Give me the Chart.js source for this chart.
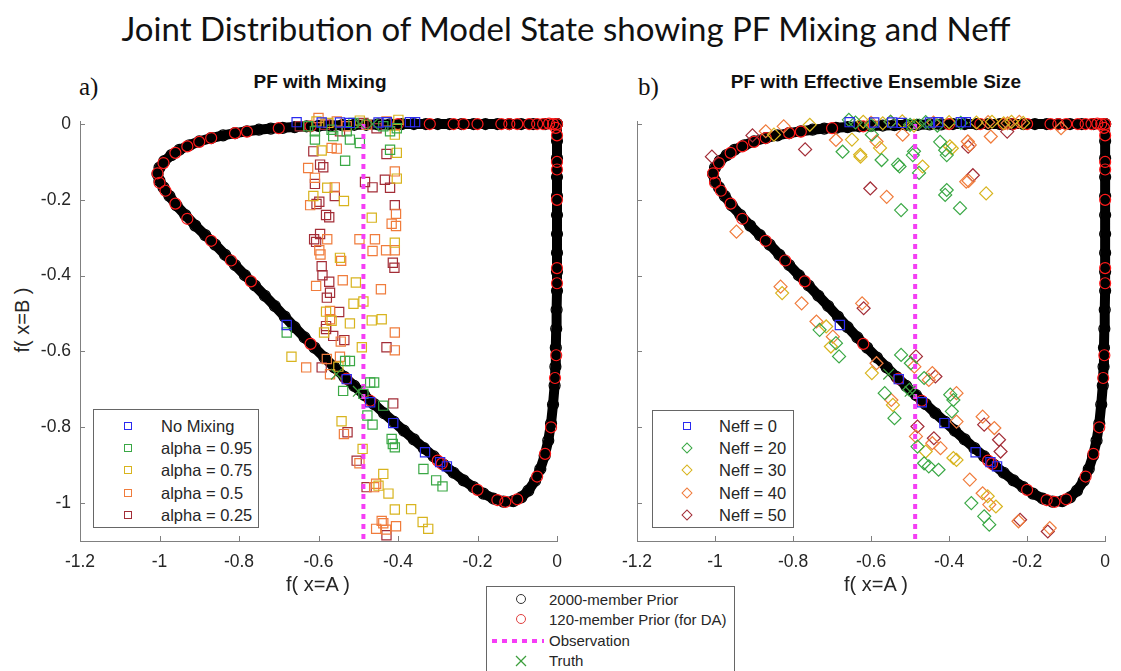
<!DOCTYPE html>
<html>
<head>
<meta charset="utf-8">
<script src="https://cdn.jsdelivr.net/npm/chart.js@4.4.0/dist/chart.umd.min.js"></script>
<style>
  body { margin: 0; width: 1121px; height: 671px; background: #fff; position: relative; overflow: hidden;
         font-family: "Liberation Sans", Arial, sans-serif; color: #262626; }
  .abs { position: absolute; white-space: nowrap; }
  #title { left: 0; width: 1132px; top: 8px; text-align: center; font-family: Lato, "Open Sans", sans-serif; font-size: 33px; color: #111; }
  .sub { top: 71px; font-weight: bold; font-size: 19px; color: #111; transform: translateX(-50%); }
  .tag { top: 73px; font-family: "Liberation Serif", "Times New Roman", serif; font-size: 25px; color: #111; }
  .xlab { top: 573px; font-size: 20px; transform: translateX(-50%); }
  #ylab { left: 22px; top: 320px; font-size: 20px; transform: translate(-50%, -50%) rotate(-90deg); }
  canvas { position: absolute; top: 60px; }
  .legend { position: absolute; border: 1px solid #666; background: #fff; }
  .row { position: absolute; left: 0; right: 0; height: 22px; font-size: 16.5px; line-height: 22px; }
  .row .mk { position: absolute; box-sizing: border-box; }
  .row .tx { position: absolute; }
  .sq { width: 8px; height: 8px; border: 1.3px solid; top: 7px; }
  .dm { width: 8px; height: 8px; border: 1.3px solid; top: 7px; transform: rotate(45deg); }
  .ci { width: 10px; height: 10px; border: 1.2px solid; border-radius: 50%; top: 5px; }
</style>
</head>
<body>
<div id="title" class="abs">Joint Distribution of Model State showing PF Mixing and Neff</div>
<div class="abs tag" style="left:79px;">a)</div>
<div class="abs tag" style="left:638px;">b)</div>
<div class="abs sub" style="left:320px;">PF with Mixing</div>
<div class="abs sub" style="left:876px;">PF with Effective Ensemble Size</div>
<div id="ylab" class="abs">f( x=B )</div>

<canvas id="left" width="580" height="540" style="left:0px;"></canvas>
<canvas id="right" width="561" height="540" style="left:560px;"></canvas>

<div class="abs xlab" style="left:318px;">f( x=A )</div>
<div class="abs xlab" style="left:876px;">f( x=A )</div>

<div id="legA" class="legend" style="left:93px; top:409px; width:164px; height:117px;"></div>
<div id="legB" class="legend" style="left:652px; top:410px; width:140px; height:116px;"></div>
<div id="legC" class="legend" style="left:486px; top:586px; width:247px; height:100px;"></div>

<script>
// axis ticks
const xTicks = [-1.2, -1, -0.8, -0.6, -0.4, -0.2, 0];
const xTickLabels = ['-1.2', '-1', '-0.8', '-0.6', '-0.4', '-0.2', '0'];
const yTicks = [-1, -0.8, -0.6, -0.4, -0.2, 0];
const yTickLabels = ['-1', '-0.8', '-0.6', '-0.4', '-0.2', '0'];

// 2000-member prior, read along the loop
const priorX = [0, -0.03, -0.06, -0.09, -0.12, -0.15, -0.18, -0.21, -0.24, -0.27, -0.30, -0.33, -0.36, -0.39, -0.42,
  -0.45, -0.48, -0.51, -0.54, -0.57, -0.60, -0.63, -0.66, -0.69, -0.72, -0.75, -0.78, -0.81, -0.84, -0.87, -0.90,
  -0.925, -0.95, -0.97, -0.988, -1.0, -1.005, -1.0, -0.99, -0.975, -0.957, -0.935,
  -0.91, -0.885, -0.86, -0.835, -0.81, -0.785, -0.76, -0.735, -0.71, -0.685, -0.66, -0.635, -0.61, -0.585, -0.56,
  -0.535, -0.51, -0.485, -0.46, -0.435, -0.41, -0.385, -0.36, -0.335, -0.31, -0.285, -0.26, -0.235, -0.21, -0.185, -0.16,
  -0.135, -0.11, -0.09, -0.072, -0.055, -0.042, -0.031, -0.022, -0.015, -0.01, -0.006, -0.004, -0.003, -0.002, -0.001,
  0, 0, 0, 0, 0, 0, 0, 0, 0, 0];
const priorY = [0, 0, 0, 0, 0, 0, 0, 0, 0, 0, 0, 0, 0, 0, -0.001,
  -0.001, -0.002, -0.002, -0.003, -0.004, -0.005, -0.006, -0.008, -0.010, -0.012, -0.015, -0.019, -0.024, -0.030, -0.037, -0.046,
  -0.056, -0.068, -0.082, -0.098, -0.115, -0.132, -0.15, -0.167, -0.19, -0.215, -0.24,
  -0.268, -0.293, -0.318, -0.345, -0.372, -0.399, -0.426, -0.453, -0.48, -0.508, -0.536, -0.563, -0.59, -0.616, -0.642,
  -0.667, -0.691, -0.715, -0.739, -0.763, -0.786, -0.809, -0.832, -0.855, -0.877, -0.899, -0.92, -0.94, -0.958, -0.975, -0.988,
  -0.996, -0.995, -0.985, -0.967, -0.941, -0.91, -0.875, -0.835, -0.79, -0.74, -0.69, -0.64, -0.59, -0.54, -0.49,
  -0.44, -0.39, -0.34, -0.29, -0.24, -0.19, -0.14, -0.09, -0.045, 0];

// 120-member prior (for DA)
const prior120X = [0, -0.01, -0.02, -0.035, -0.05, -0.07, -0.1, -0.12, -0.14, -0.2, -0.235, -0.26, -0.32, -0.4,
  -0.62, -0.7, -0.78, -0.81, -0.87, -0.9, -0.93, -0.96, -0.99, -1.005, -1.0, -0.985, -0.96, -0.93, -0.87, -0.82, -0.77,
  -0.62, -0.53, -0.47, -0.3, -0.29, -0.2, -0.15, -0.13, -0.1, -0.05, -0.03, -0.015, -0.005, -0.002,
  0, 0, 0, 0, 0, 0, -0.003];
const prior120Y = [0, 0, 0.001, 0, 0, 0, 0, 0, 0, 0, 0, 0, 0, 0,
  -0.006, -0.011, -0.02, -0.024, -0.037, -0.047, -0.059, -0.076, -0.103, -0.13, -0.155, -0.176, -0.21, -0.25, -0.308, -0.36, -0.415,
  -0.58, -0.672, -0.73, -0.888, -0.896, -0.965, -0.992, -0.997, -0.99, -0.93, -0.87, -0.8, -0.67, -0.61,
  -0.42, -0.38, -0.2, -0.12, -0.1, -0.03, -0.01];

// observation and truth
const obsX = [-0.487, -0.487];
const obsY = [0, -1.1];
const truthX = [-0.496, -0.464, -0.555, -0.5];
const truthY = [0.0, 0.0, -0.66, -0.705];

// No Mixing / Neff = 0
const noMixX = [-0.655, -0.592, -0.546, -0.521, -0.449, -0.428, -0.37, -0.357, -0.68, -0.529, -0.47, -0.412, -0.332, -0.294, -0.277];
const noMixY = [0.005, 0.004, 0.004, 0.003, 0.004, 0.005, 0.005, 0.005, -0.53, -0.673, -0.734, -0.789, -0.866, -0.892, -0.903];

// panel a: mixing
const alpha95X = [-0.626, -0.609, -0.567, -0.529, -0.512, -0.437, -0.42, -0.403, -0.609, -0.563, -0.521, -0.496, -0.533, -0.42,
  -0.68, -0.533, -0.521, -0.538, -0.47, -0.46, -0.487, -0.437, -0.477, -0.464, -0.416, -0.413, -0.408, -0.336, -0.304, -0.288];
const alpha95Y = [-0.006, -0.019, -0.015, -0.019, 0.003, -0.006, -0.019, -0.011, -0.041, -0.032, -0.041, -0.05, -0.097, -0.068,
  -0.55, -0.625, -0.625, -0.704, -0.682, -0.682, -0.712, -0.743, -0.769, -0.793, -0.831, -0.844, -0.853, -0.91, -0.94, -0.956];
const alpha75X = [-0.605, -0.575, -0.496, -0.399, -0.408, -0.592, -0.403, -0.403, -0.578, -0.536, -0.613, -0.466, -0.408,
  -0.546, -0.506, -0.512, -0.487, -0.581, -0.521, -0.466, -0.441, -0.567,
  -0.586, -0.491, -0.668, -0.55, -0.542, -0.489, -0.437, -0.449, -0.424, -0.408, -0.367, -0.338, -0.324];
const alpha75Y = [0.007, 0.003, 0.009, 0.011, -0.028, -0.07, -0.076, -0.144, -0.168, -0.203, -0.19, -0.247, -0.313,
  -0.353, -0.418, -0.474, -0.468, -0.495, -0.526, -0.518, -0.515, -0.519,
  -0.55, -0.589, -0.614, -0.64, -0.784, -0.857, -0.923, -0.954, -0.975, -1.017, -1.016, -1.05, -1.068];
const alpha50X = [-0.6, -0.554, -0.479, -0.429, -0.529, -0.567, -0.554, -0.626, -0.609, -0.408, -0.559, -0.621, -0.405, -0.416,
  -0.405, -0.578, -0.497, -0.458, -0.598, -0.595, -0.543, -0.464, -0.43, -0.408, -0.606, -0.539, -0.443, -0.571,
  -0.571, -0.408, -0.544, -0.408, -0.631, -0.579, -0.546, -0.571, -0.536, -0.497, -0.455, -0.46, -0.441, -0.437, -0.455, -0.43, -0.405];
const alpha50Y = [0.016, 0.007, -0.002, 0.007, -0.006, -0.063, -0.065, -0.116, -0.142, -0.125, -0.167, -0.214, -0.237, -0.263,
  -0.269, -0.304, -0.304, -0.304, -0.333, -0.344, -0.361, -0.335, -0.333, -0.333, -0.427, -0.412, -0.436, -0.493,
  -0.515, -0.55, -0.574, -0.597, -0.642, -0.62, -0.614, -0.66, -0.818, -0.895, -0.949, -0.958, -1.047, -1.053, -1.068, -1.07, -1.061];
const alpha25X = [-0.647, -0.584, -0.487, -0.454, -0.546, -0.613, -0.429, -0.596, -0.588, -0.609, -0.483, -0.464, -0.433, -0.42,
  -0.559, -0.605, -0.598, -0.408, -0.581, -0.573, -0.596, -0.611, -0.606, -0.413, -0.409, -0.592, -0.59, -0.573, -0.571,
  -0.579, -0.548, -0.581, -0.581, -0.563, -0.535, -0.429, -0.592, -0.412, -0.527, -0.504, -0.479, -0.429];
const alpha25Y = [-0.006, -0.002, 0.003, -0.011, -0.019, -0.072, -0.079, -0.107, -0.114, -0.158, -0.153, -0.167, -0.147, -0.168,
  -0.19, -0.211, -0.205, -0.214, -0.24, -0.246, -0.29, -0.304, -0.311, -0.366, -0.379, -0.375, -0.399, -0.416, -0.445,
  -0.458, -0.496, -0.533, -0.541, -0.559, -0.57, -0.589, -0.642, -0.737, -0.813, -0.888, -0.958, -1.085];

// panel b: effective ensemble size
const neff20X = [-0.64, -0.6, -0.55, -0.5, -0.46, -0.43, -0.37, -0.657, -0.598, -0.673, -0.573, -0.531, -0.527, -0.523, -0.493,
  -0.49, -0.477, -0.423, -0.41, -0.406, -0.406, -0.41, -0.372,
  -0.732, -0.69, -0.682, -0.565, -0.54, -0.523, -0.498, -0.502, -0.464, -0.481, -0.464, -0.452, -0.427, -0.397, -0.389,
  -0.393, -0.343, -0.31, -0.297];
const neff20Y = [0.004, -0.003, 0.006, -0.002, 0.005, -0.004, 0.003, 0.011, -0.028, -0.073, -0.095, -0.107, -0.112, -0.227, -0.082,
  -0.072, -0.129, -0.047, -0.069, -0.082, -0.174, -0.187, -0.222,
  -0.543, -0.578, -0.613, -0.71, -0.776, -0.609, -0.631, -0.701, -0.67, -0.851, -0.895, -0.903, -0.912, -0.714, -0.728,
  -0.758, -1.0, -1.035, -1.057];
const neff30X = [-0.62, -0.57, -0.52, -0.49, -0.4, -0.33, -0.29, -0.26, -0.24, -0.21, -0.849, -0.757, -0.649, -0.628, -0.577,
  -0.398, -0.627, -0.468, -0.393, -0.305,
  -0.828, -0.715, -0.703, -0.598, -0.544, -0.46, -0.389, -0.381, -0.301, -0.28];
const neff30Y = [0.006, 0.002, 0.007, -0.004, 0.005, 0.004, 0.006, 0.002, 0.006, 0.003, -0.028, -0.002, -0.041, -0.081, -0.063,
  -0.059, -0.086, -0.112, -0.064, -0.183,
  -0.446, -0.534, -0.587, -0.657, -0.741, -0.864, -0.881, -0.886, -0.982, -1.009];
const neff40X = [-0.6, -0.55, -0.44, -0.3, -0.25, -0.22, -0.87, -0.824, -0.69, -0.586, -0.519, -0.352,
  -0.945, -0.56, -0.347, -0.356, -0.35, -0.293, -0.113,
  -0.832, -0.778, -0.623, -0.74, -0.698, -0.586, -0.548, -0.489, -0.443, -0.452, -0.485, -0.443, -0.422,
  -0.381, -0.381, -0.314, -0.284, -0.347, -0.314, -0.297, -0.222, -0.142];
const neff40Y = [0.003, 0.006, 0.004, 0.005, 0.002, 0.006, -0.019, -0.006, -0.042, -0.046, -0.028, -0.046,
  -0.284, -0.192, -0.055, -0.152, -0.15, -0.033, -0.011,
  -0.429, -0.473, -0.473, -0.521, -0.561, -0.631, -0.728, -0.64, -0.657, -0.675, -0.824, -0.842, -0.855,
  -0.71, -0.785, -0.772, -0.802, -0.938, -0.974, -1.004, -1.048, -1.066];
const neff50X = [-1.008, -0.904, -0.769, -0.602, -0.351, -0.339, -0.251, -0.619, -0.485, -0.435, -0.481, -0.439,
  -0.31, -0.272, -0.268, -0.218, -0.147];
const neff50Y = [-0.086, -0.03, -0.067, -0.17, -0.06, -0.135, -0.02, -0.486, -0.613, -0.666, -0.798, -0.829,
  -0.793, -0.833, -0.864, -1.044, -1.075];

const blue = '#2a2af0', green = '#3aa845', yellow = '#d8b41e', orange = '#f07c3c', darkred = '#a32d37';
const black = '#000000', red = '#ff1a1a', magenta = '#f53ef5', truthGreen = '#3c9e3c';

const pts = (xs, ys) => xs.map((x, i) => ({ x: x, y: ys[i] }));

function markers(xs, ys, color, style, r, order) {
  return {
    data: pts(xs, ys), pointStyle: style, pointRadius: r, pointBorderColor: color,
    pointBackgroundColor: 'rgba(0,0,0,0)', pointBorderWidth: 1.2, showLine: false, clip: false, order: order
  };
}

function common() {
  return [
    markers(truthX, truthY, truthGreen, 'crossRot', 7.5, 1),
    {
      data: pts(obsX, obsY), showLine: true, borderColor: magenta, borderWidth: 4, borderDash: [5, 5],
      pointRadius: 0, clip: false, order: 2
    },
    markers(prior120X, prior120Y, red, 'circle', 5.5, 20),
    {
      data: pts(priorX, priorY), showLine: true, borderColor: black, borderWidth: 10, borderJoinStyle: 'round',
      borderCapStyle: 'round', pointRadius: 5.5, pointBorderColor: black, pointBackgroundColor: 'rgba(0,0,0,0)',
      pointBorderWidth: 1.2, clip: false, order: 30
    }
  ];
}

// inward MATLAB-like tick marks
const inwardTicks = {
  id: 'inwardTicks',
  afterDraw(chart) {
    const { ctx, chartArea: a, scales: { x, y } } = chart;
    ctx.save();
    ctx.strokeStyle = '#808080';
    ctx.lineWidth = 1;
    x.ticks.forEach(t => {
      const px = Math.round(x.getPixelForValue(t.value)) + 0.5;
      ctx.beginPath(); ctx.moveTo(px, a.bottom); ctx.lineTo(px, a.bottom - 5); ctx.stroke();
    });
    y.ticks.forEach(t => {
      const py = Math.round(y.getPixelForValue(t.value)) + 0.5;
      ctx.beginPath(); ctx.moveTo(a.left, py); ctx.lineTo(a.left + 5, py); ctx.stroke();
    });
    ctx.restore();
  }
};

function makeChart(id, datasets, yAxisWidth, padRight, showYLabels) {
  const font = { family: "'Liberation Sans', Arial, sans-serif", size: 17.5 };
  return new Chart(document.getElementById(id), {
    type: 'scatter',
    data: { datasets: datasets },
    options: {
      responsive: false, animation: false,
      layout: { padding: { left: 0, right: padRight, top: 61, bottom: 0 } },
      plugins: { legend: { display: false }, tooltip: { enabled: false } },
      scales: {
        x: {
          type: 'linear', min: -1.2, max: 0,
          afterBuildTicks: s => { s.ticks = xTicks.map(v => ({ value: v })); },
          afterFit: s => { s.height = 59; },
          ticks: { callback: (v, i) => xTickLabels[i], font: font, color: '#262626', padding: 11, maxRotation: 0, autoSkip: false },
          grid: { display: false, drawTicks: false },
          border: { display: true, color: '#808080', width: 1 }
        },
        y: {
          type: 'linear', min: -1.1, max: 0.008,
          afterBuildTicks: s => { s.ticks = yTicks.map(v => ({ value: v })); },
          afterFit: s => { s.width = yAxisWidth; },
          ticks: { callback: (v, i) => showYLabels ? yTickLabels[i] : '', font: font, color: '#262626', padding: 9, autoSkip: false },
          grid: { display: false, drawTicks: false },
          border: { display: true, color: '#808080', width: 1 }
        }
      }
    },
    plugins: [inwardTicks]
  });
}

makeChart('left', [
  markers(noMixX, noMixY, blue, 'rect', 6.5, 3),
  markers(alpha95X, alpha95Y, green, 'rect', 6.5, 4),
  markers(alpha75X, alpha75Y, yellow, 'rect', 6.5, 5),
  markers(alpha50X, alpha50Y, orange, 'rect', 6.5, 6),
  markers(alpha25X, alpha25Y, darkred, 'rect', 6.5, 7),
  ...common()
], 80, 23, true);

makeChart('right', [
  markers(noMixX, noMixY, blue, 'rect', 6.5, 3),
  markers(neff20X, neff20Y, green, 'rectRot', 6.5, 4),
  markers(neff30X, neff30Y, yellow, 'rectRot', 6.5, 5),
  markers(neff40X, neff40Y, orange, 'rectRot', 6.5, 6),
  markers(neff50X, neff50Y, darkred, 'rectRot', 6.5, 7),
  ...common()
], 77, 6, false);

// legends
function legend(id, rows, top0, step, mkLeft, txLeft, fontSize) {
  const box = document.getElementById(id);
  rows.forEach((r, i) => {
    const row = document.createElement('div');
    row.className = 'row';
    row.style.top = (top0 + i * step - 11) + 'px';
    if (fontSize) row.style.fontSize = fontSize + 'px';
    let mk;
    if (r.kind === 'line') {
      mk = document.createElement('div');
      mk.className = 'mk';
      mk.style.cssText = 'left:5px;top:9px;width:52px;height:4px;background:repeating-linear-gradient(90deg,' +
        r.color + ' 0 5px, transparent 5px 10px);';
    } else if (r.kind === 'x') {
      mk = document.createElementNS('http://www.w3.org/2000/svg', 'svg');
      mk.setAttribute('width', 12); mk.setAttribute('height', 12);
      mk.style.cssText = 'position:absolute;left:' + (mkLeft - 6) + 'px;top:5px;';
      mk.innerHTML = '<line x1="1" y1="1" x2="11" y2="11" stroke="' + r.color + '" stroke-width="1.3"/>' +
        '<line x1="11" y1="1" x2="1" y2="11" stroke="' + r.color + '" stroke-width="1.3"/>';
    } else {
      mk = document.createElement('div');
      mk.className = 'mk ' + r.kind;
      const w = r.kind === 'ci' ? 10 : 8;
      mk.style.left = (mkLeft - w / 2) + 'px';
      mk.style.borderColor = r.color;
    }
    const tx = document.createElement('div');
    tx.className = 'tx';
    tx.style.left = txLeft + 'px';
    tx.textContent = r.label;
    row.appendChild(mk);
    row.appendChild(tx);
    box.appendChild(row);
  });
}

legend('legA', [
  { label: 'No Mixing', color: blue, kind: 'sq' },
  { label: 'alpha = 0.95', color: green, kind: 'sq' },
  { label: 'alpha = 0.75', color: yellow, kind: 'sq' },
  { label: 'alpha = 0.5', color: orange, kind: 'sq' },
  { label: 'alpha = 0.25', color: darkred, kind: 'sq' }
], 16, 22.2, 34, 67);

legend('legB', [
  { label: 'Neff = 0', color: blue, kind: 'sq' },
  { label: 'Neff = 20', color: green, kind: 'dm' },
  { label: 'Neff = 30', color: yellow, kind: 'dm' },
  { label: 'Neff = 40', color: orange, kind: 'dm' },
  { label: 'Neff = 50', color: darkred, kind: 'dm' }
], 15, 22.2, 34, 66);

legend('legC', [
  { label: '2000-member Prior', color: '#333', kind: 'ci' },
  { label: '120-member Prior (for DA)', color: '#e04040', kind: 'ci' },
  { label: 'Observation', color: magenta, kind: 'line' },
  { label: 'Truth', color: truthGreen, kind: 'x' }
], 13, 20.3, 34, 62, 15);
</script>
</body>
</html>
